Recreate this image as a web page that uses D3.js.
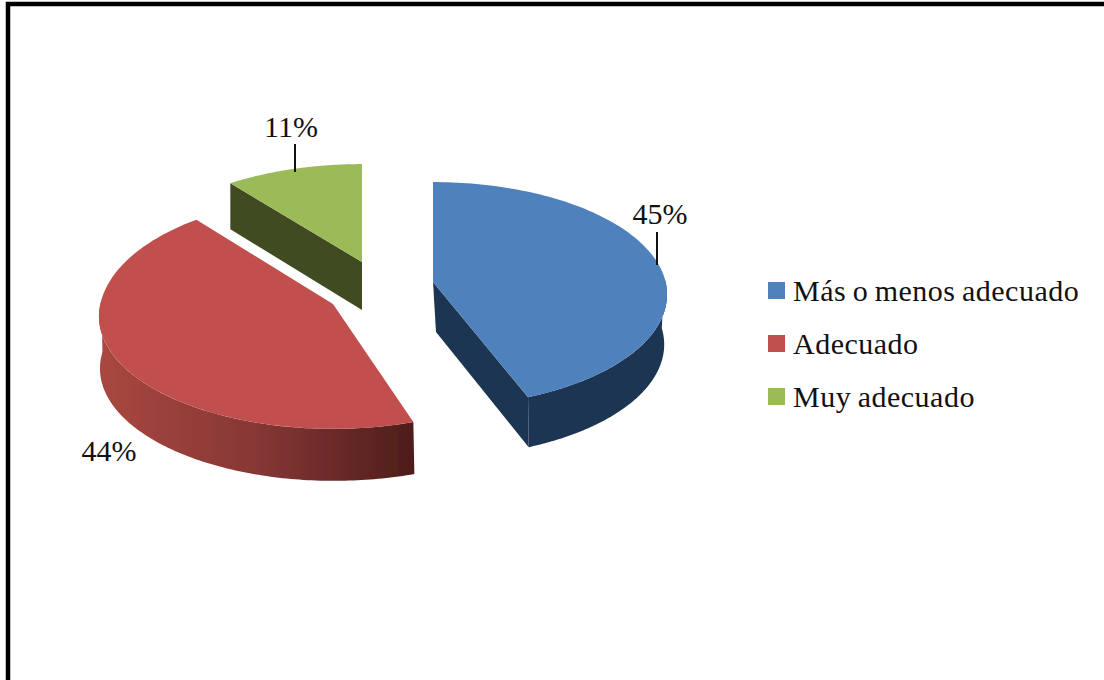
<!DOCTYPE html>
<html>
<head>
<meta charset="utf-8">
<script src="https://cdn.jsdelivr.net/npm/d3@7"></script>
<style>
html,body{margin:0;padding:0;background:#fff;overflow:hidden}
text{font-family:"Liberation Serif",serif;fill:#111}
</style>
</head>
<body>
<svg id="c" width="1104" height="680"></svg>
<script>
const categories = ["Más o menos adecuado", "Adecuado", "Muy adecuado"];
const values = [45, 44, 11];
const valueLabels = ["45%", "44%", "11%"];
const topColors = ["#4f81bd", "#c0504d", "#9bbb59"];
const sideColors = ["#1f3552", "url(#redSide)", "#3f4b21"];

// layout of each exploded slice: apex on screen, nudge of drawn edge angles (deg)
const apexX = [433, 333, 362];
const apexY = [282, 304, 262];
const nudgeStart = [0, 0, 1.6];
const nudgeEnd = [-3.5, 0, 0];
const backStretch = [1, 1.07, 0.98];
const depthDX = [3, 1, 0];
const depthDY = [50, 52, 46];
const bottomScale = [0.975, 1, 1];
const labelX = [660, 109, 291];
const labelY = [224, 461, 137];
const leaderX = [657, null, 295];
const leaderY1 = [232, null, 144];
const leaderY2 = [265, null, 172];

const A = 232.6, B = 111, P = 0.111;

const svg = d3.select("#c");
const defs = svg.append("defs");
const grad = defs.append("linearGradient").attr("id", "redSide")
  .attr("gradientUnits", "userSpaceOnUse")
  .attr("x1", 100).attr("x2", 413).attr("y1", 0).attr("y2", 0);
[[0, "#a9473f"], [0.5, "#863735"], [1, "#4f1d1b"]].forEach(s =>
  grad.append("stop").attr("offset", s[0]).attr("stop-color", s[1]));
defs.append("filter").attr("id", "soft").attr("x", "-5%").attr("y", "-5%")
  .attr("width", "110%").attr("height", "110%")
  .append("feGaussianBlur").attr("stdDeviation", 0.5);

// white page and heavy frame (top and left only are visible)
svg.append("rect").attr("width", 1104).attr("height", 680).attr("fill", "#fff");
svg.append("rect").attr("x", 8).attr("y", 4).attr("width", 1200).attr("height", 800)
  .attr("fill", "none").attr("stroke", "#000").attr("stroke-width", 4.5);

// perspective projection of a unit-circle point (angle clockwise from the top)
function project(theta, i, bottom) {
  const u = Math.sin(theta), v = -Math.cos(theta), d = 1 - P * v;
  const yy = B * v / d * (v < 0 ? backStretch[i] : 1);
  return [
    apexX[i] + (bottom ? depthDX[i] : 0) + (bottom ? bottomScale[i] : 1) * A * u / d,
    apexY[i] + (bottom ? depthDY[i] : 0) + yy
  ];
}
const rad = d => d * Math.PI / 180;
const arcs = d3.pie().sort(null).value(d => d)(values);
const drawn = arcs.map((a, i) => {
  const s = d3.scaleLinear().domain([a.startAngle, a.endAngle])
    .range([a.startAngle + rad(nudgeStart[i]), a.endAngle + rad(nudgeEnd[i])]);
  return [s(a.startAngle), s(a.endAngle)];
});
const samples = (a0, a1) => d3.range(0, 121).map(k => a0 + (a1 - a0) * k / 120);
const line = d3.line().curve(d3.curveLinearClosed);

const slices = svg.append("g").attr("filter", "url(#soft)").selectAll("g").data(arcs).join("g");
slices.each(function (d, i) {
  const g = d3.select(this);
  const [a0, a1] = drawn[i];
  // outer wall: only the part facing the viewer
  const w0 = Math.max(a0, rad(88)), w1 = Math.min(a1, rad(272));
  if (w1 > w0) {
    const ang = samples(w0, w1);
    const pts = ang.map(t => project(t, i, false))
      .concat(ang.slice().reverse().map(t => project(t, i, true)));
    g.append("path").attr("d", line(pts)).attr("fill", sideColors[i]);
  }
  // cut face visible on blue (end edge) and green (start edge)
  const cut = i === 0 ? a1 : (i === 2 ? a0 : null);
  if (cut !== null) {
    const apexTop = [apexX[i], apexY[i]];
    const apexBot = [apexX[i] + depthDX[i], apexY[i] + depthDY[i] + (i === 2 ? 2 : 0)];
    g.append("path")
      .attr("d", line([apexTop, project(cut, i, false), project(cut, i, true), apexBot]))
      .attr("fill", sideColors[i]);
  }
  // top face
  const topPts = [[apexX[i], apexY[i]]].concat(samples(a0, a1).map(t => project(t, i, false)));
  g.append("path").attr("d", line(topPts)).attr("fill", topColors[i]);
});

// leader lines
svg.append("g").selectAll("line").data(values.map((_, i) => i).filter(i => leaderX[i] !== null)).join("line")
  .attr("x1", i => leaderX[i]).attr("x2", i => leaderX[i])
  .attr("y1", i => leaderY1[i]).attr("y2", i => leaderY2[i])
  .attr("stroke", "#111").attr("stroke-width", 2);

// value labels
svg.append("g").selectAll("text").data(valueLabels).join("text")
  .attr("x", (d, i) => labelX[i]).attr("y", (d, i) => labelY[i])
  .attr("text-anchor", "middle").attr("font-size", 30).text(d => d);

// legend
const legendY = d3.scalePoint().domain(categories).range([301, 407]);
const legend = svg.append("g").selectAll("g").data(categories).join("g")
  .attr("transform", d => `translate(0,${legendY(d)})`);
legend.append("rect").attr("x", 768).attr("y", -19).attr("width", 17).attr("height", 17)
  .attr("fill", (d, i) => topColors[i]);
legend.append("text").attr("x", 793).attr("y", 0)
  .attr("font-size", 30).attr("letter-spacing", 0.5).attr("word-spacing", -1.5)
  .text(d => d);
</script>
</body>
</html>
